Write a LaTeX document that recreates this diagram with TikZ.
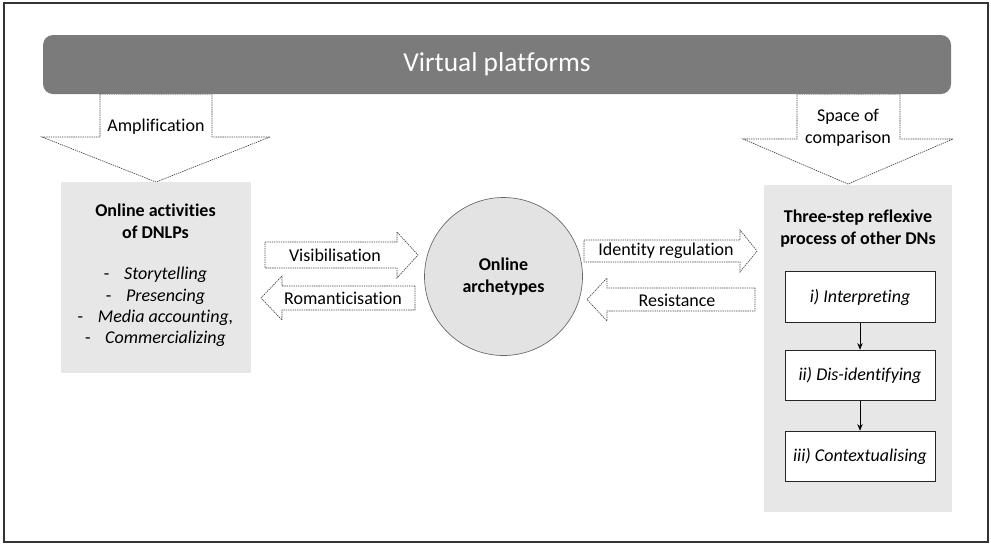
\documentclass[tikz,border=0pt]{standalone}
\usepackage{fontspec}
\setmainfont{Carlito}[Ligatures={NoCommon}]
\usetikzlibrary{arrows.meta}

\definecolor{bannergray}{HTML}{7B7B7B}
\definecolor{boxgray}{HTML}{E7E7E7}
\definecolor{circlegray}{HTML}{E3E3E3}

\tikzset{
  blockarrow/.style={draw=black!75, fill=white, line width=0.5pt, dash pattern=on 1pt off 0.7pt},
  labeltext/.style={inner sep=0.75pt, font=\fontsize{13.5}{16.5}\selectfont, align=center},
  boldtext/.style={labeltext, font=\fontsize{13.5}{16.5}\selectfont\bfseries},
  graybox/.style={fill=boxgray, inner sep=0pt},
  stepbox/.style={draw=black!85, fill=white, line width=0.6pt, minimum width=112.5pt, minimum height=38pt, inner sep=0pt, font=\fontsize{13.5}{16.5}\selectfont\itshape},
  steparrow/.style={-{Stealth[length=5pt,width=4pt]}, line width=0.5pt},
}

\begin{document}
\begin{tikzpicture}[x=0.75pt,y=0.75pt,yscale=-1,xscale=1]
	\useasboundingbox (0,0) rectangle (991,544);
	% Frame
	\draw [line width=1.1pt, black!80] (4,3) rectangle (988,542);

	% Down arrows
	\draw [blockarrow] (100,94) -- (212,94) -- (212,137) -- (270,137) -- (156,182) -- (42,137) -- (100,137) -- cycle;
	\draw [blockarrow] (797,94) -- (900,94) -- (900,139) -- (953,139) -- (848,184) -- (743,139) -- (797,139) -- cycle;
	\node [labeltext] (amplification) at (156,127) {Amplification};
	\node [labeltext] (comparison) at (848,128) {Space of\\comparison};

	% Banner
	\node [fill=bannergray, rounded corners=7.5pt, minimum width=681pt, minimum height=44.25pt, text=white, font=\fontsize{20.5}{24}\selectfont] (platforms) at (497,64.5) {Virtual platforms};

	% Left box
	\node [graybox, minimum width=142.5pt, minimum height=143.25pt] (activities) at (155.5,277.5) {};
	\node [boldtext] (activitiestitle) at (155.5,221) {Online activities\\of DNLPs};
	\node [labeltext, font=\fontsize{13.5}{16}\selectfont] (activitieslist) at (155.5,307) {-\hspace{11pt}\textit{Storytelling}\\-\hspace{11pt}\textit{Presencing}\\-\hspace{11pt}\textit{Media accounting,}\\-\hspace{11pt}\textit{Commercializing}};

	% Right box
	\node [graybox, minimum width=141pt, minimum height=245.25pt] (reflexive) at (858,348.5) {};
	\node [boldtext] (reflexivetitle) at (858,229) {Three-step reflexive\\process of other DNs};
	\node [stepbox] (interpreting) at (860,297) {i) Interpreting};
	\node [stepbox] (disidentifying) at (860,375.5) {ii) Dis-identifying};
	\node [stepbox] (contextualising) at (860,456.5) {iii) Contextualising};
	\draw [steparrow] (interpreting) -- (disidentifying);
	\draw [steparrow] (disidentifying) -- (contextualising);

	% Circle
	\node [circle, draw=black!60, fill=circlegray, line width=0.5pt, minimum size=118.5pt, boldtext] (archetypes) at (503.5,276.5) {Online\\archetypes};

	% Horizontal arrows
	\draw [blockarrow] (265,242) -- (397,242) -- (397,232) -- (418,255) -- (397,278) -- (397,268) -- (265,268) -- cycle;
	\node [labeltext] (visibilisation) at (335,255) {Visibilisation};
	\draw [blockarrow] (415,286) -- (282,286) -- (282,276) -- (261,298) -- (282,320) -- (282,310) -- (415,310) -- cycle;
	\node [labeltext] (romanticisation) at (343,298) {Romanticisation};
	\draw [blockarrow] (584,240) -- (740,240) -- (740,230) -- (757,251) -- (740,272) -- (740,262) -- (584,262) -- cycle;
	\node [labeltext] (regulation) at (666,251) {Identity regulation};
	\draw [blockarrow] (755,288) -- (607,288) -- (607,278) -- (587,299.5) -- (607,321) -- (607,311) -- (755,311) -- cycle;
	\node [labeltext] (resistance) at (677,300) {Resistance};

\end{tikzpicture}
\end{document}
